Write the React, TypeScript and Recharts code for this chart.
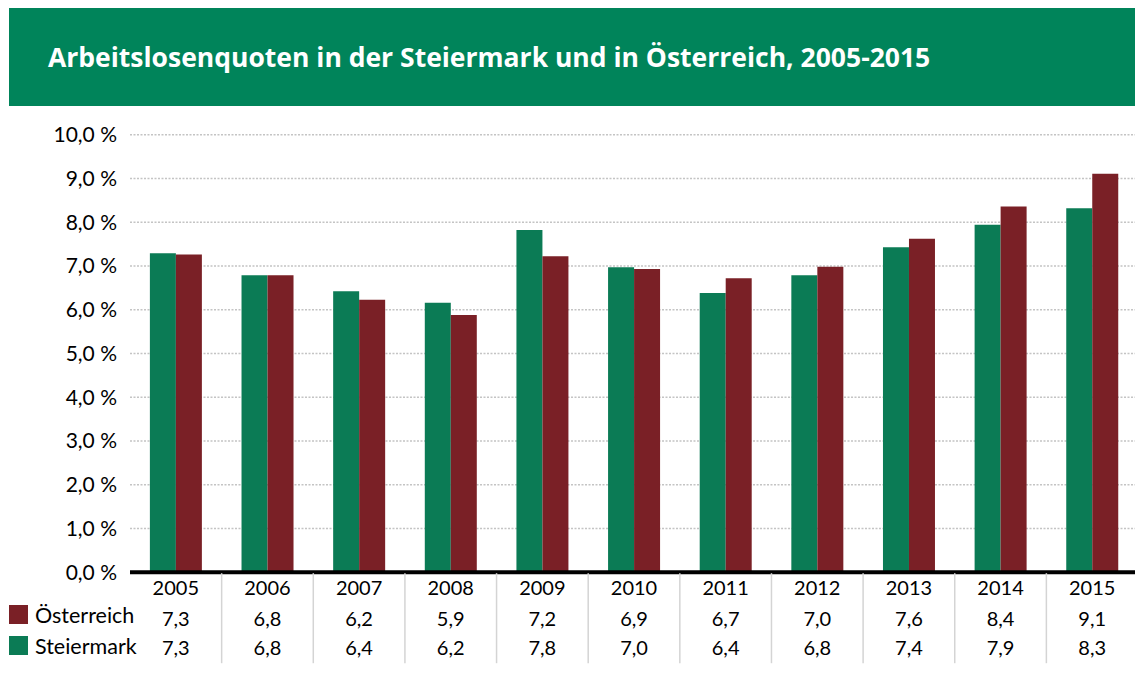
import React from 'react';
import { BarChart, Bar, XAxis, YAxis, CartesianGrid } from 'recharts';

const years = ['2005', '2006', '2007', '2008', '2009', '2010', '2011', '2012', '2013', '2014', '2015'];
const steiermark = [7.29, 6.79, 6.42, 6.16, 7.82, 6.97, 6.38, 6.79, 7.43, 7.94, 8.32];
const oesterreich = [7.26, 6.79, 6.23, 5.88, 7.22, 6.93, 6.72, 6.98, 7.62, 8.36, 9.11];
const yTicks = [0, 1, 2, 3, 4, 5, 6, 7, 8, 9, 10];
const seriesNames = ['Österreich', 'Steiermark'];

const TITLE = 'Arbeitslosenquoten in der Steiermark und in Österreich, 2005-2015';
const GREEN = '#0b7b55';
const RED = '#7a2026';
const BANNER = '#00845a';
const FONT = 'Lato, "Liberation Sans", sans-serif';

const data = years.map((y, i) => ({ year: y, steiermark: steiermark[i], oesterreich: oesterreich[i] }));

const fmt = (v: number) => v.toFixed(1).replace('.', ',');

const TableTick = (props: any) => {
  const { x, y, payload, index } = props;
  const i = index ?? payload.index;
  const band = 91.6;
  return (
    <g>
      {i > 0 && (
        <line x1={x - band / 2} x2={x - band / 2} y1={y + 1} y2={y + 91} stroke="#d4d4d4" strokeWidth={1.5} />
      )}
      <text x={x} y={y + 15} textAnchor="middle" dominantBaseline="central" fontSize={20} fill="#000" fontFamily={FONT}>
        {payload.value}
      </text>
      <text x={x} y={y + 46} textAnchor="middle" dominantBaseline="central" fontSize={20} fill="#000" fontFamily={FONT}>
        {fmt(oesterreich[i])}
      </text>
      <text x={x} y={y + 75} textAnchor="middle" dominantBaseline="central" fontSize={20} fill="#000" fontFamily={FONT}>
        {fmt(steiermark[i])}
      </text>
    </g>
  );
};

export default function App() {
  const legendColors = [RED, GREEN];
  return (
    <div style={{ position: 'relative', width: 1135, height: 681 }}>
      <div
        style={{
          position: 'absolute',
          left: 1,
          top: -2,
          width: 1134,
          height: 100,
          background: BANNER,
        }}
      />
      <div
        style={{
          position: 'absolute',
          left: 40,
          top: 33.6,
          color: '#fff',
          fontFamily: '"Open Sans", sans-serif',
          fontWeight: 700,
          fontSize: 26.5,
          whiteSpace: 'nowrap',
          lineHeight: '30px',
        }}
      >
        {TITLE}
      </div>
      <div style={{ position: 'absolute', left: -8, top: -8 }}>
        <BarChart
          width={1143}
          height={697}
          data={data}
          margin={{ top: 134.7, right: 5, bottom: 34.8, left: 0 }}
          barCategoryGap="21.7%"
          barGap={0}
        >
          <CartesianGrid vertical={false} stroke="#c4c4c4" strokeDasharray="2 1.5" strokeWidth={1.5} />
          <YAxis
            width={130}
            domain={[0, 10]}
            ticks={yTicks}
            interval={0}
            tickFormatter={(v: number) => fmt(v) + ' %'}
            axisLine={false}
            tickLine={false}
            tickMargin={7}
            tick={{ fill: '#000', fontSize: 21, fontFamily: FONT }}
          />
          <XAxis
            dataKey="year"
            height={90}
            interval={0}
            axisLine={{ stroke: '#000', strokeWidth: 4 }}
            tickLine={false}
            tickSize={0}
            tickMargin={0}
            tick={<TableTick />}
          />
          <Bar dataKey="steiermark" fill={GREEN} isAnimationActive={false} />
          <Bar dataKey="oesterreich" fill={RED} isAnimationActive={false} />
        </BarChart>
      </div>
      <div
        style={{
          position: 'absolute',
          left: 1,
          top: 591,
          fontFamily: FONT,
          fontSize: 21.5,
          color: '#000',
        }}
      >
        {seriesNames.map((name, k) => (
          <div key={name} style={{ display: 'flex', alignItems: 'center', height: 31 }}>
            <div style={{ width: 19, height: 19, background: legendColors[k], marginRight: 7 }} />
            <span>{name}</span>
          </div>
        ))}
      </div>
    </div>
  );
}
